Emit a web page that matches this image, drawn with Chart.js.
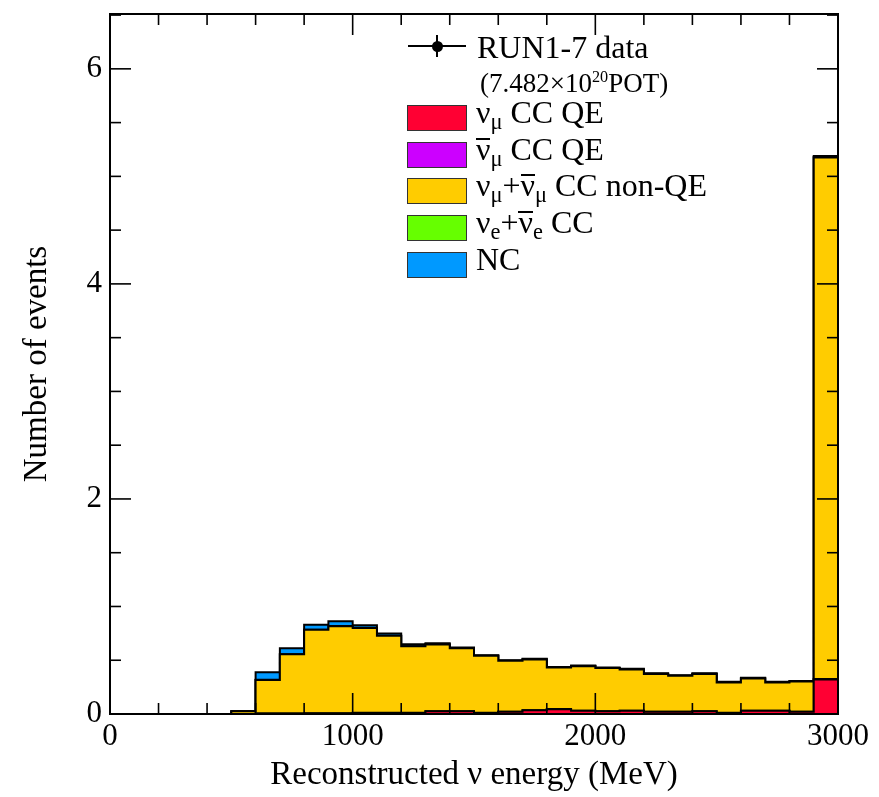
<!DOCTYPE html>
<html>
<head>
<meta charset="utf-8">
<script src="https://cdn.jsdelivr.net/npm/chart.js@4.4.1/dist/chart.umd.min.js"></script>
<style>
    body { margin: 0; background: #fff; }
    #wrap { position: relative; width: 879px; height: 797px; font-family: "Liberation Serif", "Times New Roman", serif; color: #000; }
    #chart { position: absolute; left: 0; top: 0; }
    .leg { position: absolute; font-size: 32px; line-height: 32px; white-space: nowrap; }
    .box { position: absolute; width: 58px; height: 24px; border: 1px solid #333; }
    .bar { display: inline-block; line-height: 0.6em; border-top: 2px solid #000; padding-top: 0; }
    sub { font-size: 70%; vertical-align: -0.25em; line-height: 0; }
    sup { font-size: 60%; vertical-align: 0.6em; line-height: 0; }
</style>
</head>
<body>
<div id="wrap">
    <canvas id="chart" width="879" height="797"></canvas>

    <!-- legend -->
    <div style="position:absolute; left:408px; top:45px; width:58px; height:2px; background:#000;"></div>
    <div style="position:absolute; left:436px; top:35px; width:2px; height:22px; background:#000;"></div>
    <div style="position:absolute; left:432px; top:41px; width:11px; height:11px; border-radius:50%; background:#000;"></div>
    <div class="leg" style="left:477px; top:31px;">RUN1-7 data</div>
    <div class="leg" style="left:480px; top:67px; font-size:27px;">(7.482×10<sup>20</sup>POT)</div>

    <div class="box" style="left:407px; top:105px; background:#ff0033;"></div>
    <div class="leg" style="left:476px; top:96px;">ν<sub>μ</sub> CC QE</div>

    <div class="box" style="left:407px; top:142px; background:#cc00ff;"></div>
    <div class="leg" style="left:476px; top:133px;"><span class="bar">ν</span><sub>μ</sub> CC QE</div>

    <div class="box" style="left:407px; top:178px; background:#ffcc00;"></div>
    <div class="leg" style="left:476px; top:169px;">ν<sub>μ</sub>+<span class="bar">ν</span><sub>μ</sub> CC non-QE</div>

    <div class="box" style="left:407px; top:215px; background:#66ff00;"></div>
    <div class="leg" style="left:476px; top:206px;">ν<sub>e</sub>+<span class="bar">ν</span><sub>e</sub> CC</div>

    <div class="box" style="left:407px; top:252px; background:#0099ff;"></div>
    <div class="leg" style="left:476px; top:243px;">NC</div>
</div>

<script>
// bin low edges (MeV), last bin 2900-3000 holds the overflow
const binLow = [0, 100, 200, 300, 400, 500, 600, 700, 800, 900,
                1000, 1100, 1200, 1300, 1400, 1500, 1600, 1700, 1800, 1900,
                2000, 2100, 2200, 2300, 2400, 2500, 2600, 2700, 2800, 2900];
const xMax = 3000;

// stacked components, bottom to top
const numuCCQE = [0, 0, 0, 0, 0, 0, 0.004, 0.004, 0.005, 0.005,
                  0.01, 0.01, 0.01, 0.025, 0.025, 0.01, 0.02, 0.035, 0.045, 0.03,
                  0.025, 0.03, 0.02, 0.02, 0.025, 0.01, 0.03, 0.03, 0.02, 0.32];
const numubarCCQE = [0, 0, 0, 0, 0, 0, 0.001, 0.001, 0.001, 0.001,
                     0.001, 0.001, 0.001, 0.001, 0.001, 0.001, 0.001, 0.001, 0.001, 0.001,
                     0.001, 0.001, 0.001, 0.001, 0.001, 0.001, 0.001, 0.001, 0.001, 0.005];
const ccNonQE = [0, 0, 0, 0, 0, 0.025, 0.312, 0.55, 0.777, 0.811,
                 0.789, 0.716, 0.619, 0.621, 0.586, 0.53, 0.474, 0.471, 0.386, 0.414,
                 0.401, 0.383, 0.352, 0.334, 0.347, 0.282, 0.299, 0.262, 0.281, 4.85];
const nueCC = [0, 0, 0, 0, 0, 0, 0.001, 0.001, 0.001, 0.001,
               0.001, 0.001, 0.001, 0.001, 0.001, 0.001, 0.001, 0.001, 0.001, 0.001,
               0.001, 0.001, 0.001, 0.001, 0.001, 0.001, 0.001, 0.001, 0.001, 0.005];
const ncEvents = [0, 0, 0, 0, 0, 0, 0.07, 0.055, 0.045, 0.045,
                  0.025, 0.02, 0.018, 0.01, 0.005, 0.005, 0.005, 0.005, 0.005, 0.005,
                  0.005, 0.005, 0.005, 0.005, 0.005, 0.005, 0.005, 0.005, 0.005, 0.01];

// axis ticks
const xTickValues = [0, 1000, 2000, 3000];
const yTickValues = [0, 2, 4, 6];
const xMinorStep = 200;
const yMinorStep = 0.5;

const serif = '"Liberation Serif", "Times New Roman", serif';

// histogram outline: one point per low edge plus the closing upper edge
function stepPoints(values) {
    const pts = values.map((v, i) => ({ x: binLow[i], y: v }));
    pts.push({ x: xMax, y: values[values.length - 1] });
    return pts;
}

function layer(values, color, fill) {
    return {
        data: stepPoints(values),
        stepped: 'before',
        backgroundColor: color,
        borderColor: '#000',
        borderWidth: 2,
        pointRadius: 0,
        fill: fill
    };
}

// ROOT style frame with inward ticks on every side
const rootFrame = {
    id: 'rootFrame',
    afterDraw(chart) {
        const { ctx, chartArea: a, scales: { x, y } } = chart;
        ctx.save();
        ctx.strokeStyle = '#000';
        ctx.lineWidth = 1.6;
        const seg = (x1, y1, x2, y2) => {
            ctx.beginPath();
            ctx.moveTo(x1, y1);
            ctx.lineTo(x2, y2);
            ctx.stroke();
        };
        for (let v = 0; v <= xMax; v += xMinorStep) {
            const px = x.getPixelForValue(v);
            const len = v % 1000 === 0 ? 21 : 11;
            seg(px, a.bottom, px, a.bottom - len);
            seg(px, a.top, px, a.top + len);
        }
        for (let v = 0; v <= y.max; v += yMinorStep) {
            const py = y.getPixelForValue(v);
            const len = v % 2 === 0 ? 21 : 11;
            seg(a.left, py, a.left + len, py);
            seg(a.right, py, a.right - len, py);
        }
        ctx.lineWidth = 2;
        ctx.strokeRect(a.left, a.top, a.right - a.left, a.bottom - a.top);
        ctx.restore();
    }
};

new Chart(document.getElementById('chart'), {
    type: 'line',
    data: {
        datasets: [
            layer(numuCCQE, '#ff0033', 'origin'),
            layer(numubarCCQE, '#cc00ff', '-1'),
            layer(ccNonQE, '#ffcc00', '-1'),
            layer(nueCC, '#66ff00', '-1'),
            layer(ncEvents, '#0099ff', '-1')
        ]
    },
    options: {
        responsive: false,
        animation: false,
        layout: { padding: { left: 0, right: 41, top: 14, bottom: 0 } },
        plugins: {
            legend: { display: false },
            tooltip: { enabled: false }
        },
        scales: {
            x: {
                type: 'linear',
                min: 0,
                max: xMax,
                grid: { display: false, drawTicks: false },
                border: { display: false },
                afterBuildTicks: s => { s.ticks = xTickValues.map(v => ({ value: v })); },
                afterFit: s => { s.height = 83; s.paddingLeft = 0; s.paddingRight = 0; },
                ticks: {
                    font: { family: serif, size: 31 },
                    color: '#000',
                    padding: 4,
                    maxRotation: 0,
                    autoSkip: false,
                    callback: v => String(v)
                },
                title: {
                    display: true,
                    text: 'Reconstructed ν energy (MeV)',
                    font: { family: serif, size: 33 },
                    color: '#000',
                    padding: { top: 0, bottom: 2 }
                }
            },
            y: {
                stacked: true,
                min: 0,
                max: 6.51,
                grid: { display: false, drawTicks: false },
                border: { display: false },
                afterBuildTicks: s => { s.ticks = yTickValues.map(v => ({ value: v })); },
                afterFit: s => { s.width = 110; s.paddingTop = 0; s.paddingBottom = 0; },
                ticks: {
                    font: { family: serif, size: 31 },
                    color: '#000',
                    padding: 8,
                    callback: v => String(v)
                },
                title: {
                    display: true,
                    text: 'Number of events',
                    font: { family: serif, size: 33 },
                    color: '#000',
                    padding: { top: 18, bottom: 0 }
                }
            }
        }
    },
    plugins: [rootFrame]
});
</script>
</body>
</html>
